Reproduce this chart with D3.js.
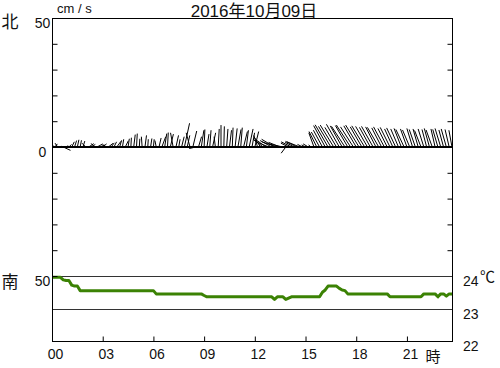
<!DOCTYPE html>
<html>
<head>
<meta charset="utf-8">
<script src="https://cdn.jsdelivr.net/npm/d3@7"></script>
<style>
  body { margin: 0; background: #fff; }
  svg text { font-family: "Liberation Sans", "Noto Sans CJK JP", sans-serif; fill: #111; }
</style>
</head>
<body>
<script>
// 10-minute samples, 00:00 .. 23:40 (one row per hour)
const stepMinutes = 10;

// current east component (cm/s)
const currentU = [
     0.5,  1.0, -1.0,  0.5,  2.8,  0.8,
     1.0,  1.0,  0.8,  0.6,  0.5,  0.7,
    -1.5,  2.0,  1.5, -1.2,  2.2,  1.8,
     1.5, -1.0,  1.8,  1.2,  1.0,  1.6,
     0.8,  0.5,  1.2,  0.5,  0.2,  0.6,
     0.3,  0.2, -0.3,  0.6,  0.2,  0.5,
     0.3, -0.5,  0.8,  1.5,  0.8,  0.3,
     1.2, -1.0,  1.0,  0.5,  1.0,  2.0,
     1.0, -1.5,  1.5, -2.5,  1.2,  1.0,
     0.3,  0.8,  0.5,  1.2, -0.5,  0.4,
     0.0,  0.2,  0.5,  0.8,  0.3,  0.8,
     1.2,  0.6,  1.5,  0.8,  1.5,  1.0,
     1.5, -1.5, -2.5, -4.0, -3.5, -5.0,
    -4.5, -5.0, -6.0, -4.5, -5.5, -1.8,
    -3.0, -4.0, -3.5, -4.5, -5.0, -2.0,
    -1.5, -2.0, -1.0, -2.0, -3.0, -3.2,
    -3.5, -4.5, -5.0, -4.8, -5.2, -4.5,
    -5.0, -4.6, -5.2, -4.8, -5.5, -5.0,
    -4.8, -5.2, -4.5, -5.0, -4.6, -4.2,
    -4.5, -4.0, -4.4, -3.8, -4.2, -3.6,
    -3.8, -3.2, -3.5, -3.0, -2.8, -3.2,
    -2.5, -2.8, -2.2, -2.4, -2.0, -2.5,
    -2.2, -1.8, -2.0, -2.4, -1.6, -2.0,
    -2.2, -1.8, -2.0, -1.6, -1.2
];

// current north component (cm/s)
const currentV = [
    0.5, 1.2, 1.5, 0.3, -1.3, 0.5,
    1.0, 2.0, 2.5, 2.8, 2.6, 2.3,
    1.5, 1.3, 1.0, 1.4, 1.2, 0.8,
    1.2, 1.0, 1.4, 1.6, 2.0, 2.2,
    2.6, 3.0, 2.4, 3.2, 3.6, 4.8,
    5.2, 3.2, 4.0, 4.5, 3.0, 3.3,
    3.0, 2.5, 3.5, 4.0, 5.2, 5.6,
    5.0, 5.5, 4.5, 3.0, 4.0, 9.2,
    4.5, 5.5, 6.2, -0.6, 4.0, 6.5,
    6.8, 5.0, 6.5, 5.5, 4.0, 7.0,
    8.5, 8.0, 7.0, 6.5, 7.5, 7.2,
    6.8, 7.5, 6.0, 6.5, 7.0, 5.5,
    6.0, 4.5, 4.0, 3.0, 2.5, 2.0,
    2.5, 3.0, 2.0, 1.8, 1.2, -2.4,
    1.5, 2.0, 1.8, 2.2, 2.0, 1.0,
    0.8, 1.2, 0.8, 5.5, 6.0, 5.8,
    6.5, 8.3, 8.6, 8.0, 8.5, 7.6,
    8.8, 8.2, 8.0, 8.3, 8.5, 7.8,
    8.2, 8.5, 7.8, 8.2, 8.0, 7.6,
    8.0, 7.8, 7.6, 7.4, 7.8, 7.2,
    7.6, 7.0, 7.4, 7.0, 7.2, 6.8,
    7.0, 6.6, 7.2, 6.8, 7.0, 6.4,
    7.0, 6.8, 7.2, 6.6, 7.0, 6.8,
    7.2, 6.6, 7.0, 6.8, 6.5
];

// water temperature (deg C)
const waterTemp = [
    23.96, 23.96, 23.96, 23.96, 23.88, 23.86,
    23.86, 23.72, 23.69, 23.69, 23.55, 23.55,
    23.55, 23.55, 23.55, 23.55, 23.55, 23.55,
    23.55, 23.55, 23.55, 23.55, 23.55, 23.55,
    23.55, 23.55, 23.55, 23.55, 23.55, 23.55,
    23.55, 23.55, 23.55, 23.55, 23.55, 23.55,
    23.55, 23.45, 23.45, 23.45, 23.45, 23.45,
    23.45, 23.45, 23.45, 23.45, 23.45, 23.45,
    23.45, 23.45, 23.45, 23.45, 23.45, 23.45,
    23.40, 23.36, 23.36, 23.36, 23.36, 23.36,
    23.36, 23.36, 23.36, 23.36, 23.36, 23.36,
    23.36, 23.36, 23.36, 23.36, 23.36, 23.36,
    23.36, 23.36, 23.36, 23.36, 23.36, 23.36,
    23.36, 23.28, 23.36, 23.36, 23.36, 23.28,
    23.32, 23.36, 23.36, 23.36, 23.36, 23.36,
    23.36, 23.36, 23.36, 23.36, 23.36, 23.36,
    23.50, 23.57, 23.69, 23.69, 23.69, 23.69,
    23.62, 23.57, 23.55, 23.45, 23.45, 23.45,
    23.45, 23.45, 23.45, 23.45, 23.45, 23.45,
    23.45, 23.45, 23.45, 23.45, 23.45, 23.45,
    23.36, 23.36, 23.36, 23.36, 23.36, 23.36,
    23.36, 23.36, 23.36, 23.36, 23.36, 23.36,
    23.45, 23.45, 23.45, 23.45, 23.45, 23.36,
    23.45, 23.45, 23.38, 23.45, 23.45
];

const hourTicks    = [0, 3, 6, 9, 12, 15, 18, 21];
const hourLabels   = ["00", "03", "06", "09", "12", "15", "18", "21"];
const speedTicks   = [-50, -40, -30, -20, -10, 0, 10, 20, 30, 40, 50];
const speedLabeled = [50, 0, -50];
const tempTicks    = [22, 23, 24];
const tempLines    = [23, 24];
const title        = "2016年10月09日";

function drawChart() {
    const width = 500, height = 368;
    const left = 52, right = 452, top = 18, bottom = 341;

    const data = currentU.map((u, i) => ({
        hour: i * stepMinutes / 60,
        u: u,
        v: currentV[i],
        temp: waterTemp[i]
    }));

    const x = d3.scaleLinear()
        .domain([0, 23 + 40 / 60])
        .range([left, right]);

    // current speed, north up / south down, 0 in the middle of the upper panel
    const y = d3.scaleLinear()
        .domain([-50, 50])
        .range([276, top]);

    const yT = d3.scaleLinear()
        .domain([22, 24])
        .range([bottom, 276]);

    const k = y(0) - y(1); // px per cm/s, same both directions

    const svg = d3.select("body").append("svg")
        .attr("width", width)
        .attr("height", height);

    // temperature reference lines
    svg.append("g")
        .selectAll("line")
        .data(tempLines)
        .join("line")
            .attr("x1", left).attr("x2", right)
            .attr("y1", d => Math.round(yT(d)) + 0.5)
            .attr("y2", d => Math.round(yT(d)) + 0.5)
            .attr("stroke", "#333");

    // current sticks
    svg.append("g")
        .selectAll("line")
        .data(data)
        .join("line")
            .attr("x1", d => x(d.hour))
            .attr("y1", y(0))
            .attr("x2", d => x(d.hour) + d.u * k)
            .attr("y2", d => y(0) - d.v * k)
            .attr("stroke", "#000")
            .attr("stroke-width", 1);

    // zero line
    svg.append("line")
        .attr("x1", left).attr("x2", right)
        .attr("y1", y(0)).attr("y2", y(0))
        .attr("stroke", "#000")
        .attr("stroke-width", 2);

    // temperature
    const line = d3.line()
        .x(d => x(d.hour))
        .y(d => yT(d.temp));

    svg.append("path")
        .datum(data)
        .attr("fill", "none")
        .attr("stroke", "#3b8204")
        .attr("stroke-width", 3)
        .attr("stroke-linejoin", "round")
        .attr("d", line);

    // frame
    svg.append("rect")
        .attr("x", left + 0.5).attr("y", top + 0.5)
        .attr("width", right - left).attr("height", bottom - top)
        .attr("fill", "none")
        .attr("stroke", "#000");

    // left axis (ticks inside)
    svg.append("g")
        .attr("transform", `translate(${left + 0.5},0)`)
        .call(d3.axisLeft(y)
            .tickValues(speedTicks)
            .tickSizeInner(-5)
            .tickSizeOuter(0)
            .tickPadding(0)
            .tickFormat(d => speedLabeled.includes(d) ? Math.abs(d) : ""))
        .call(g => g.select(".domain").remove())
        .call(g => g.selectAll("text")
            .attr("x", -10)
            .attr("dy", "0.68em")
            .attr("text-anchor", "middle")
            .style("font-size", "14px"));

    // right axis ticks
    svg.append("g")
        .attr("transform", `translate(${right + 0.5},0)`)
        .call(d3.axisRight(y)
            .tickValues(speedTicks.filter(d => Math.abs(d) !== 50 && d !== 0))
            .tickSizeInner(-5)
            .tickSizeOuter(0)
            .tickFormat(""))
        .call(g => g.select(".domain").remove());

    // temperature labels
    svg.append("g")
        .attr("transform", `translate(${right},0)`)
        .call(d3.axisRight(yT)
            .tickValues(tempTicks)
            .tickSize(0)
            .tickPadding(11)
            .tickFormat(d3.format("d")))
        .call(g => g.select(".domain").remove())
        .call(g => g.selectAll("text")
            .attr("dy", "0.68em")
            .style("font-size", "14px"));

    svg.append("text")
        .attr("x", 480).attr("y", 282)
        .style("font-size", "15px")
        .text("℃");

    // bottom axis (ticks inside)
    svg.append("g")
        .attr("transform", `translate(0,${bottom + 0.5})`)
        .call(d3.axisBottom(x)
            .tickValues(hourTicks)
            .tickSizeInner(-5)
            .tickSizeOuter(0)
            .tickPadding(8)
            .tickFormat((d, i) => hourLabels[i]))
        .call(g => g.select(".domain").remove())
        .call(g => g.selectAll("text")
            .attr("dx", 3)
            .style("font-size", "14px"));

    svg.append("text")
        .attr("x", 433).attr("y", 362)
        .attr("text-anchor", "middle")
        .style("font-size", "15px")
        .text("時");

    // side and top labels
    svg.append("text")
        .attr("x", 10).attr("y", 28)
        .attr("text-anchor", "middle")
        .style("font-size", "17px")
        .text("北");

    svg.append("text")
        .attr("x", 10).attr("y", 288)
        .attr("text-anchor", "middle")
        .style("font-size", "17px")
        .text("南");

    svg.append("text")
        .attr("x", 57).attr("y", 13)
        .style("font-size", "13px")
        .text("cm / s");

    svg.append("text")
        .attr("x", 254).attr("y", 17)
        .attr("text-anchor", "middle")
        .style("font-size", "17px")
        .text(title);
}

drawChart();
</script>
</body>
</html>
